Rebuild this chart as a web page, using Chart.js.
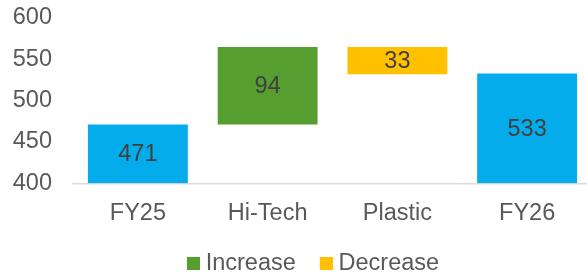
<!DOCTYPE html>
<html>
<head>
<meta charset="utf-8">
<script src="https://cdn.jsdelivr.net/npm/chart.js@4"></script>
<style>
html, body { margin: 0; padding: 0; background: #fff; }
#wrap { width: 587px; height: 275px; }
</style>
</head>
<body>
<div id="wrap"><canvas id="waterfall"></canvas></div>
<script>
const categories = ['FY25', 'Hi-Tech', 'Plastic', 'FY26'];
const totals = [471, null, null, 533];
const increases = [null, 94, null, null];
const decreases = [null, null, 33, null];
const yTicks = [400, 450, 500, 550, 600];

const COLORS = {
    total: '#05ACEB',
    up: '#559E2F',
    down: '#FFC000',
    text: '#595959',
    label: '#404040',
    axis: '#D9D9D9',
};
const FONT = "'Liberation Sans', Arial, sans-serif";
const FONT_SIZE = 23.5;

// floating ranges for the waterfall
const base = yTicks[0];
const totalBars = [], upBars = [], downBars = [];
let level = base;
categories.forEach((c, i) => {
    totalBars.push(null); upBars.push(null); downBars.push(null);
    if (totals[i] !== null) {
        totalBars[i] = [base, totals[i]];
        level = totals[i];
    } else if (increases[i] !== null) {
        upBars[i] = [level, level + increases[i]];
        level += increases[i];
    } else if (decreases[i] !== null) {
        downBars[i] = [level - decreases[i], level];
        level -= decreases[i];
    }
});

// legend swatch: small square sitting at the right end of a wider transparent canvas
const BOX_W = 28;
function swatch(color) {
    const c = document.createElement('canvas');
    c.width = BOX_W + 12;
    c.height = 13;
    const g = c.getContext('2d');
    g.fillStyle = color;
    g.fillRect(c.width - 13, 0, 13, 13);
    return c;
}

// value labels in the middle of each bar
const barLabels = {
    id: 'barLabels',
    afterDatasetsDraw(chart) {
        const ctx = chart.ctx;
        const sources = [totals, increases, decreases];
        ctx.save();
        ctx.font = FONT_SIZE + 'px ' + FONT;
        ctx.fillStyle = COLORS.label;
        ctx.textAlign = 'center';
        ctx.textBaseline = 'middle';
        chart.data.datasets.forEach((ds, di) => {
            chart.getDatasetMeta(di).data.forEach((bar, i) => {
                const v = sources[di][i];
                if (v === null) return;
                const { x, y, base } = bar.getProps(['x', 'y', 'base'], true);
                ctx.fillText(String(v), x, (y + base) / 2 + 1);
            });
        });
        ctx.restore();
    }
};

// the plot runs slightly past the right edge in the original; nudge legend too
const layoutTweak = {
    id: 'layoutTweak',
    afterLayout(chart) {
        const x = chart.scales.x;
        x.right += 5;
        x.width += 5;
        x.configure();
        const l = chart.legend;
        l.left += 9; l.right += 9;
        l.top += 10; l.bottom += 10;
    }
};

new Chart(document.getElementById('waterfall'), {
    type: 'bar',
    data: {
        labels: categories,
        datasets: [
            { label: 'Total', data: totalBars, backgroundColor: COLORS.total },
            { label: 'Increase', data: upBars, backgroundColor: COLORS.up },
            { label: 'Decrease', data: downBars, backgroundColor: COLORS.down },
        ]
    },
    options: {
        responsive: true,
        maintainAspectRatio: false,
        animation: false,
        layout: { padding: { left: 0, top: 18, right: 0, bottom: 0 } },
        datasets: { bar: { categoryPercentage: 1, barPercentage: 0.77 } },
        plugins: {
            tooltip: { enabled: false },
            legend: {
                position: 'bottom',
                labels: {
                    color: COLORS.text,
                    font: { family: FONT, size: FONT_SIZE },
                    usePointStyle: true,
                    pointStyleWidth: BOX_W,
                    boxHeight: 13,
                    padding: 3,
                    generateLabels(chart) {
                        const items = Chart.defaults.plugins.legend.labels.generateLabels(chart);
                        return items
                            .filter(it => it.text !== 'Total')
                            .map(it => ({ ...it, pointStyle: swatch(it.fillStyle) }));
                    }
                }
            }
        },
        scales: {
            x: {
                stacked: true,
                grid: { display: false, drawTicks: false },
                border: { display: true, color: COLORS.axis, width: 1.5 },
                ticks: { color: COLORS.text, font: { family: FONT, size: FONT_SIZE }, padding: 16 },
                afterFit(scale) {
                    scale.height -= 5;
                }
            },
            y: {
                stacked: false,
                min: yTicks[0],
                max: yTicks[yTicks.length - 1],
                grid: { display: false, drawTicks: false },
                border: { display: false },
                ticks: { stepSize: yTicks[1] - yTicks[0], color: COLORS.text, font: { family: FONT, size: FONT_SIZE }, padding: 21 },
                afterFit(scale) {
                    scale.width = 73;
                    scale.paddingTop = 0;
                    scale.paddingBottom = 0;
                }
            }
        }
    },
    plugins: [barLabels, layoutTweak]
});
</script>
</body>
</html>
